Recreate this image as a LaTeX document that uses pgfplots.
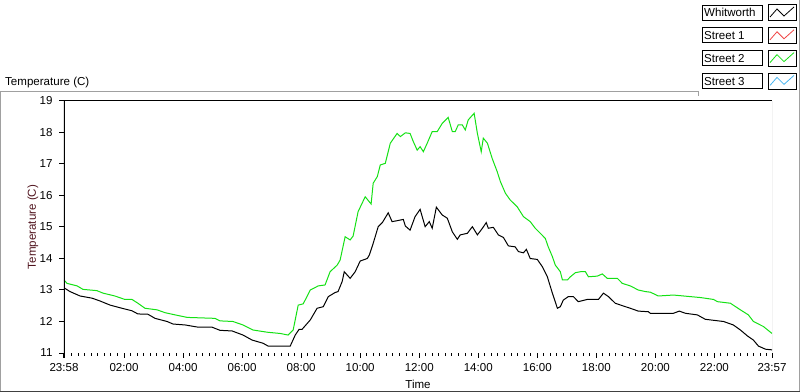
\documentclass[border=0pt]{standalone}
\usepackage{fontspec}
\setmainfont{Liberation Sans}
\usepackage{pgfplots}
\pgfplotsset{compat=1.18}
\definecolor{lvgreen}{RGB}{20,225,20}
\definecolor{lvred}{RGB}{240,70,70}
\definecolor{lvblue}{RGB}{70,180,240}
\definecolor{framegray}{RGB}{160,160,160}
\definecolor{ylabcol}{RGB}{80,20,30}
\newcommand{\lvfont}{\fontsize{11.6}{13}\selectfont}
\begin{document}
\begin{tikzpicture}
\useasboundingbox (0bp,0bp) rectangle (800bp,392bp);
% outer frame
\draw[framegray, line width=1bp] (0.5bp,0bp) -- (0.5bp,300bp) -- (698bp,300bp) -- (698bp,296bp);
\draw[framegray, line width=1bp] (799bp,0bp) -- (799bp,392bp);
\draw[black!75, line width=1bp] (0bp,0.5bp) -- (800bp,0.5bp);
\node[anchor=base west, font=\lvfont, inner sep=0pt] at (5bp,306bp) {Temperature (C)};
% legend
\foreach \t/\n/\c in {387/Whitworth/black, 364.2/Street 1/lvred, 341.4/Street 2/lvgreen, 318.6/Street 3/lvblue}{
  \draw[black, line width=0.8bp] (702bp,\t bp) rectangle (762bp,\t bp-15bp);
  \node[anchor=base west, font=\lvfont, inner sep=0pt] at (704bp,\t bp-12bp) {\n};
  \draw[black, line width=1bp] (768bp,\t bp) rectangle (796bp,\t bp-16bp);
  \draw[\c, line width=0.8bp] (770bp,\t bp-12bp) -- (777bp,\t bp-4bp) -- (784bp,\t bp-11bp) -- (794bp,\t bp-2bp);
}
\begin{axis}[
  scale only axis, width=708bp, height=252bp,
  at={(64bp,39bp)}, anchor=south west,
  xmin=-0.0333, xmax=23.95, ymin=11, ymax=19,
  axis line style={draw=none},
  tick align=outside, xtick pos=lower, ytick pos=left,
  major tick length=5bp, minor tick length=3bp,
  every tick/.style={black, line width=1bp},
  ytick={11,12,...,19},
  xtick={-0.0333,2,4,6,8,10,12,14,16,18,20,22,23.95},
  xticklabels={23:58,02:00,04:00,06:00,08:00,10:00,12:00,14:00,16:00,18:00,20:00,22:00,23:57},
  minor xtick={0.2222,0.4444,...,23.9},
  /pgf/number format/assume math mode=true,
  ticklabel style={font=\lvfont},
  xticklabel style={yshift=-1.5bp},
  yticklabel style={xshift=-3bp},
  xlabel={Time}, ylabel={Temperature (C)},
  xlabel style={at={(axis description cs:0.5,-0.123)}, anchor=center, font=\lvfont},
  ylabel style={at={(axis description cs:-0.0438,0.5)}, anchor=center, font=\lvfont, text=ylabcol},
  clip=true,
]
\addplot[lvgreen, line width=1bp] coordinates {
(-0.033,13.32)(0.07,13.21)(0.41,13.13)(0.61,13.02)(1.08,12.98)(1.29,12.90)(1.69,12.81)(2.03,12.70)(2.27,12.70)(2.47,12.58)(2.71,12.42)(3.12,12.37)(3.39,12.28)(3.73,12.21)(4.14,12.13)(5.08,12.10)(5.25,12.02)(5.69,12.00)(6.03,11.89)(6.37,11.73)(6.85,11.66)(7.29,11.62)(7.56,11.57)(7.73,11.73)(7.90,12.52)(8.07,12.56)(8.31,13.00)(8.58,13.13)(8.81,13.16)(8.98,13.58)(9.22,13.79)(9.32,13.95)(9.49,14.69)(9.66,14.59)(9.76,14.71)(9.93,15.49)(10.17,15.96)(10.37,15.73)(10.44,16.39)(10.58,16.60)(10.68,16.97)(10.85,17.02)(11.02,17.66)(11.25,17.97)(11.36,17.87)(11.53,17.99)(11.69,17.97)(11.80,17.71)(11.93,17.44)(12.03,17.55)(12.14,17.39)(12.27,17.66)(12.44,18.03)(12.61,18.03)(12.78,18.29)(12.98,18.48)(13.12,18.03)(13.22,18.03)(13.32,18.24)(13.46,18.24)(13.56,18.08)(13.66,18.40)(13.86,18.61)(13.97,17.97)(14.10,17.39)(14.17,17.82)(14.31,17.66)(14.47,17.18)(14.64,16.76)(14.75,16.44)(14.92,16.07)(15.08,15.86)(15.32,15.64)(15.53,15.33)(15.76,15.17)(15.93,14.96)(16.10,14.80)(16.27,14.64)(16.37,14.37)(16.51,14.06)(16.61,13.79)(16.78,13.58)(16.85,13.32)(17.02,13.32)(17.12,13.42)(17.29,13.55)(17.46,13.58)(17.63,13.58)(17.73,13.42)(18.03,13.44)(18.20,13.51)(18.37,13.37)(18.71,13.37)(18.88,13.21)(19.15,13.13)(19.42,13.00)(19.66,12.95)(19.83,12.93)(20.10,12.81)(20.61,12.84)(21.53,12.76)(21.97,12.70)(22.10,12.63)(22.54,12.58)(22.88,12.37)(23.15,12.21)(23.32,12.00)(23.66,11.84)(23.95,11.62)
};
\addplot[black, line width=1bp] coordinates {
(-0.033,13.07)(0.17,12.95)(0.51,12.81)(0.92,12.74)(1.19,12.65)(1.53,12.52)(1.93,12.42)(2.27,12.34)(2.47,12.24)(2.81,12.23)(3.05,12.10)(3.46,12.00)(3.66,11.92)(4.07,11.89)(4.51,11.82)(4.98,11.82)(5.25,11.72)(5.66,11.70)(6.03,11.57)(6.34,11.41)(6.71,11.31)(6.88,11.22)(7.63,11.22)(7.80,11.57)(7.93,11.75)(8.03,11.75)(8.31,12.05)(8.54,12.42)(8.75,12.47)(8.92,12.79)(9.15,12.92)(9.25,12.95)(9.39,13.27)(9.46,13.58)(9.66,13.37)(9.83,13.58)(10.00,13.92)(10.24,14.00)(10.31,14.11)(10.44,14.48)(10.61,15.01)(10.75,15.14)(10.95,15.45)(11.08,15.17)(11.25,15.20)(11.46,15.24)(11.53,15.03)(11.69,14.90)(11.86,15.33)(12.03,15.56)(12.20,15.01)(12.34,15.17)(12.44,14.96)(12.58,15.63)(12.78,15.38)(12.95,15.28)(13.12,14.85)(13.29,14.61)(13.39,14.75)(13.63,14.80)(13.80,15.01)(13.97,14.75)(14.14,14.96)(14.27,15.14)(14.34,14.96)(14.51,14.99)(14.68,14.75)(14.85,14.67)(15.02,14.40)(15.25,14.37)(15.36,14.22)(15.53,14.18)(15.63,14.29)(15.76,14.00)(16.00,13.97)(16.17,13.74)(16.34,13.42)(16.51,12.90)(16.68,12.42)(16.78,12.47)(16.88,12.68)(17.05,12.79)(17.22,12.79)(17.39,12.63)(17.69,12.70)(18.07,12.70)(18.24,12.90)(18.41,12.79)(18.64,12.58)(18.92,12.49)(19.15,12.42)(19.42,12.33)(19.76,12.31)(19.83,12.26)(20.61,12.26)(20.81,12.33)(21.02,12.26)(21.42,12.21)(21.69,12.07)(22.31,12.00)(22.64,11.89)(22.88,11.73)(23.12,11.54)(23.32,11.41)(23.49,11.22)(23.73,11.12)(23.95,11.10)
};
\draw[black, line width=1bp] (rel axis cs:0,0) -- (rel axis cs:0,1) -- (rel axis cs:1,1);
\draw[framegray, line width=1bp] (rel axis cs:1,1) -- (rel axis cs:1,0) -- (rel axis cs:0,0);
\end{axis}
\end{tikzpicture}
\end{document}
